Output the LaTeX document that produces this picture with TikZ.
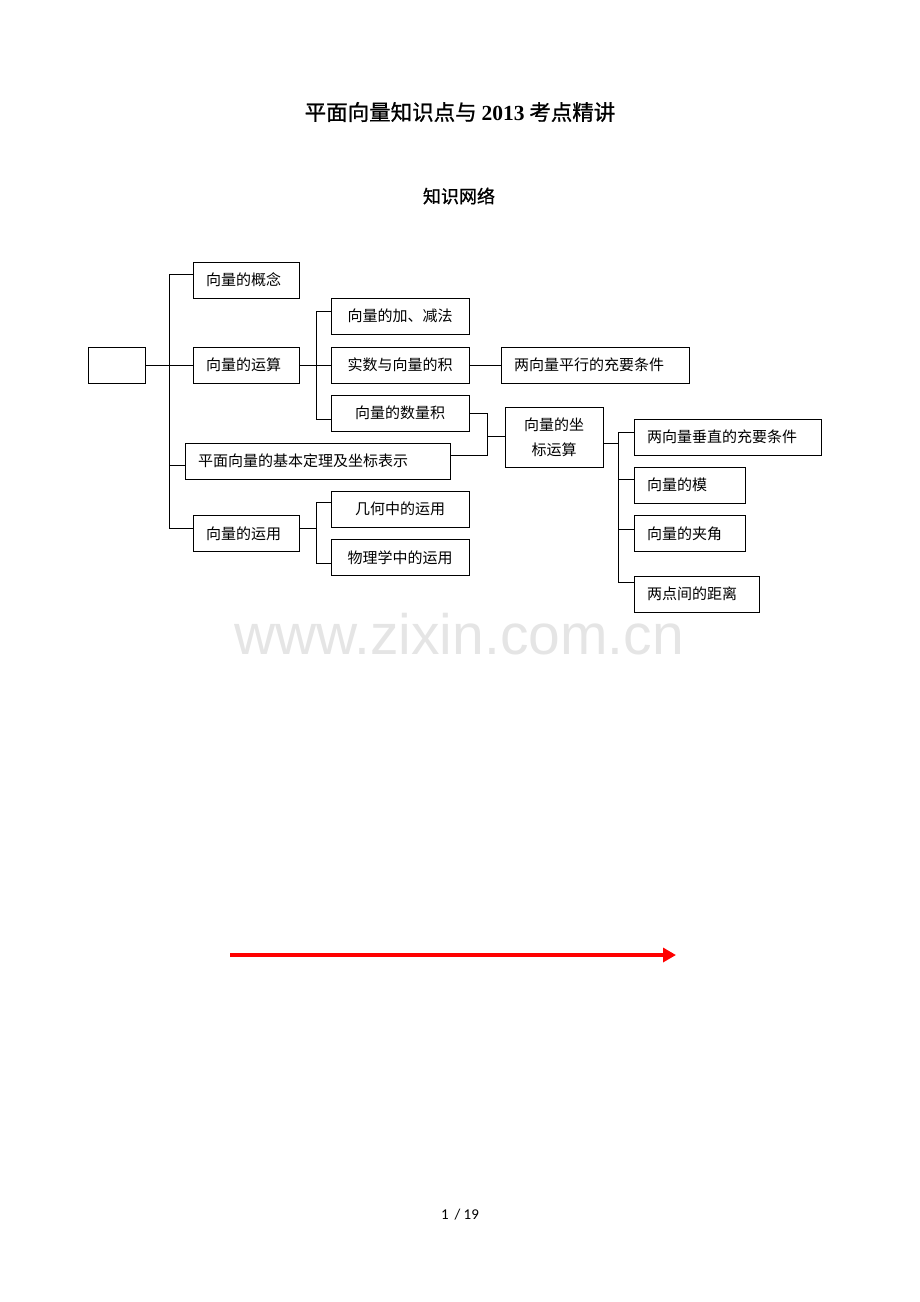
\documentclass[tikz,border=0pt]{standalone}
\usepackage{fontspec}
\setmainfont{Liberation Serif}
\newfontfamily\cjk{Noto Sans CJK SC}
\newfontfamily\cjkb[FakeBold=1]{Noto Sans CJK SC}
\newfontfamily\wmfont{Liberation Sans}
\newfontfamily\pgfont{Carlito}
\usetikzlibrary{arrows.meta}
\begin{document}
\begin{tikzpicture}[x=1pt,y=-1pt,
  bx/.style={draw,line width=0.9pt,inner xsep=13pt,inner ysep=0pt,minimum height=36pt,
    font=\cjk\fontsize{15}{25}\selectfont},
  wl/.style={text width=#1pt-26pt,align=left},
  wc/.style={text width=#1pt-26pt,align=center},
  ln/.style={line width=0.9pt}]
\useasboundingbox (0,0) rectangle (920,1302);
% titles
\node (title) at (460,112) {\cjkb\fontsize{21.5}{26}\selectfont 平面向量知识点与 {\rmfamily\bfseries 2013} 考点精讲};
\node (sub) at (459,196) {\cjkb\fontsize{18}{22}\selectfont 知识网络};
% watermark
\node[text=black!10] (wm) at (459,634) {\wmfont\fontsize{57}{60}\selectfont www.zixin.com.cn};
% boxes
\node[bx,wl=57] (root) at (116.5,365) {};
\node[bx,wl=106] (gn) at (246,280) {向量的概念};
\node[bx,wl=106] (ys) at (246,365) {向量的运算};
\node[bx,wl=265] (pm) at (317.5,461) {平面向量的基本定理及坐标表示};
\node[bx,wl=106] (yy) at (246,533.5) {向量的运用};
\node[bx,wc=138] (jj) at (400,316) {向量的加、减法};
\node[bx,wc=138] (ss) at (400,365) {实数与向量的积};
\node[bx,wc=138] (sl) at (400,413) {向量的数量积};
\node[bx,wl=188] (px) at (595,365) {两向量平行的充要条件};
\node[bx,wc=98,minimum height=60pt] (zb) at (554,437) {向量的坐\\标运算};
\node[bx,wl=187] (cz) at (727.5,437) {两向量垂直的充要条件};
\node[bx,wl=111] (mo) at (689.5,485) {向量的模};
\node[bx,wl=111] (jo) at (689.5,533.5) {向量的夹角};
\node[bx,wl=125] (jl) at (696.5,594) {两点间的距离};
\node[bx,wc=138] (jh) at (400,509) {几何中的运用};
\node[bx,wc=138] (wl) at (400,557.5) {物理学中的运用};
% trunk coordinates
\coordinate (a1) at (169,274);
\coordinate (a2) at (169,465);
\coordinate (a3) at (169,528);
\coordinate (b1) at (316,311);
\coordinate (b2) at (316,419);
\coordinate (c0) at (316,528);
\coordinate (c1) at (316,502);
\coordinate (c2) at (316,563);
\coordinate (d1) at (487,413);
\coordinate (d2) at (487,436);
\coordinate (d3) at (487,455);
\coordinate (e0) at (618,443);
\coordinate (e1) at (618,432);
\coordinate (e2) at (618,479);
\coordinate (e3) at (618,529);
\coordinate (e4) at (618,582);
% connectors
\draw[ln] (root.east) -- (ys.west);
\draw[ln] (a1) -- (a3);
\draw[ln] (a1) -- (gn.west |- a1);
\draw[ln] (a2) -- (pm.west |- a2);
\draw[ln] (a3) -- (yy.west |- a3);
\draw[ln] (ys.east) -- (ss.west);
\draw[ln] (b1) -- (b2);
\draw[ln] (b1) -- (jj.west |- b1);
\draw[ln] (b2) -- (sl.west |- b2);
\draw[ln] (ss.east) -- (px.west);
\draw[ln] (sl.east |- d1) -- (d1) -- (d3) -- (pm.east |- d3);
\draw[ln] (d2) -- (zb.west |- d2);
\draw[ln] (zb.east |- e0) -- (e0);
\draw[ln] (e1) -- (e4);
\draw[ln] (e1) -- (cz.west |- e1);
\draw[ln] (e2) -- (mo.west |- e2);
\draw[ln] (e3) -- (jo.west |- e3);
\draw[ln] (e4) -- (jl.west |- e4);
\draw[ln] (yy.east |- c0) -- (c0);
\draw[ln] (c1) -- (c2);
\draw[ln] (c1) -- (jh.west |- c1);
\draw[ln] (c2) -- (wl.west |- c2);
% red arrow
\coordinate (r1) at (230,955);
\coordinate (r2) at (676,955);
\draw[red,line width=4pt,-{Triangle[length=13pt,width=14pt]}] (r1) -- (r2);
% page number
\node (pg) at (460,1215) {\pgfont\fontsize{15}{18}\selectfont 1\, / 19};
\end{tikzpicture}
\end{document}
